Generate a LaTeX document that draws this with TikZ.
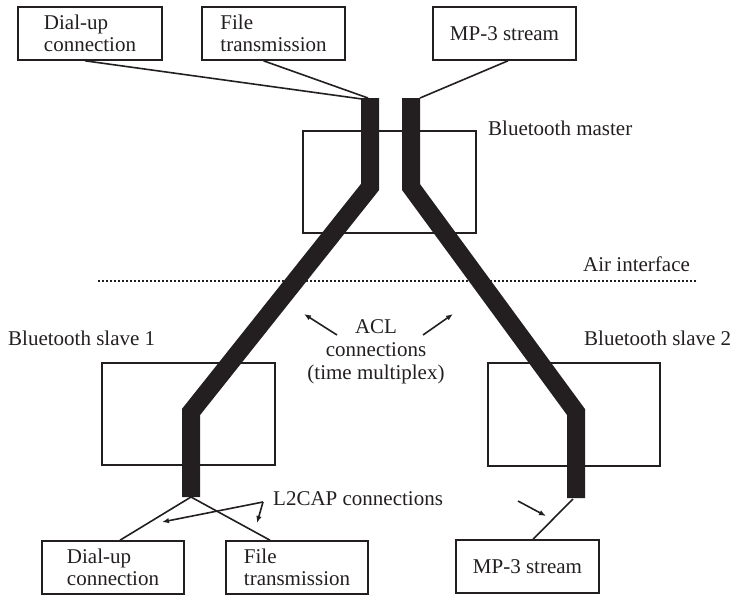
\documentclass[tikz,border=0pt]{standalone}
\usepackage{fontspec}
\setmainfont{Liberation Serif}
\newfontfamily\tnr{Liberation Serif}
\usetikzlibrary{arrows.meta}
\definecolor{ink}{RGB}{35,31,32}
\tikzset{
  box/.style={draw=ink, line width=1.6pt, rectangle, align=left, inner sep=0pt,
    font=\tnr\fontsize{21pt}{22pt}\selectfont, text=ink},
  lbl/.style={inner sep=0pt, font=\tnr\fontsize{21pt}{23pt}\selectfont, text=ink},
  band/.style={draw=ink, line width=18pt, line join=miter, line cap=butt},
  conn/.style={draw=ink, line width=1.6pt},
  arr/.style={draw=ink, line width=1.6pt, -{Latex[length=7pt,width=5.5pt]}},
}
\begin{document}
\begin{tikzpicture}[x=1pt,y=-1pt]
\useasboundingbox (0,0) rectangle (735,595);
% boxes
\node[box, minimum width=144pt, minimum height=53pt] (tdial) at (90,33.5) {Dial-up\\connection};
\node[box, minimum width=143pt, minimum height=53pt] (tfile) at (273.5,33.5) {File\\transmission};
\node[box, minimum width=143pt, minimum height=53pt] (tmp3) at (504.5,33.5) {MP-3 stream};
\node[box, minimum width=173pt, minimum height=102pt] (master) at (389.5,182) {};
\node[box, minimum width=173pt, minimum height=102pt] (slave1) at (188.5,414) {};
\node[box, minimum width=172pt, minimum height=103pt] (slave2) at (574,414.5) {};
\node[box, minimum width=142pt, minimum height=53pt] (bdial) at (113,567.5) {Dial-up\\connection};
\node[box, minimum width=142pt, minimum height=53pt] (bfile) at (297,567.5) {File\\transmission};
\node[box, minimum width=143pt, minimum height=53pt] (bmp3) at (527.5,566.5) {MP-3 stream};
% labels
\node[lbl, anchor=base west] (lmaster) at (488,135) {Bluetooth master};
\node[lbl, anchor=base west] (lair) at (583,271) {Air interface};
\node[lbl, anchor=base west] (lslave1) at (8,345) {Bluetooth slave 1};
\node[lbl, anchor=base west] (lslave2) at (584,345) {Bluetooth slave 2};
\node[lbl, align=center] (lacl) at (376,352) {ACL\\connections\\(time multiplex)};
\node[lbl, anchor=base west] (ll2cap) at (273,505) {L2CAP connections};
% band coordinates
\coordinate (La) at (370,98);
\coordinate (Lb) at (370,187);
\coordinate (Lc) at (191,412);
\coordinate (Ld) at (191,497);
\coordinate (Ra) at (411,98);
\coordinate (Rb) at (411,187);
\coordinate (Rc) at (576,412);
\coordinate (Rd) at (576,498);
\coordinate (Ltl) at (362,99);
\coordinate (Ltm) at (368,98);
\coordinate (Rtr) at (420,98);
\coordinate (Rbot) at (573,499);
% air interface
\coordinate (airL) at (98,281);
\coordinate (airR) at (697,281);
\draw[ink, line width=1.6pt, dash pattern=on 1.6pt off 2.4pt] (airL) -- (airR);
% bands
\draw[band] (La) -- (Lb) -- (Lc) -- (Ld);
\draw[band] (Ra) -- (Rb) -- (Rc) -- (Rd);
% connectors
\draw[conn] ([xshift=-5pt]tdial.south) -- (Ltl);
\draw[conn] ([xshift=-10pt]tfile.south) -- (Ltm);
\draw[conn] ([xshift=3.5pt]tmp3.south) -- (Rtr);
\draw[conn] (Ld) -- ([xshift=7pt]bdial.north);
\draw[conn] (Ld) -- ([xshift=-27pt]bfile.north);
\draw[conn] (Rbot) -- ([xshift=5.5pt]bmp3.north);
% arrows
\coordinate (apex) at (263,502);
\coordinate (a1) at (162,522);
\coordinate (a2) at (257,523);
\draw[arr] (apex) -- (a1);
\draw[arr] (apex) -- (a2);
\coordinate (m1) at (518,501);
\coordinate (m2) at (546,516);
\draw[arr] (m1) -- (m2);
\coordinate (c1) at (337,335);
\coordinate (c2) at (304,314);
\coordinate (c3) at (423,335);
\coordinate (c4) at (453,314);
\draw[arr] (c1) -- (c2);
\draw[arr] (c3) -- (c4);
\end{tikzpicture}
\end{document}
